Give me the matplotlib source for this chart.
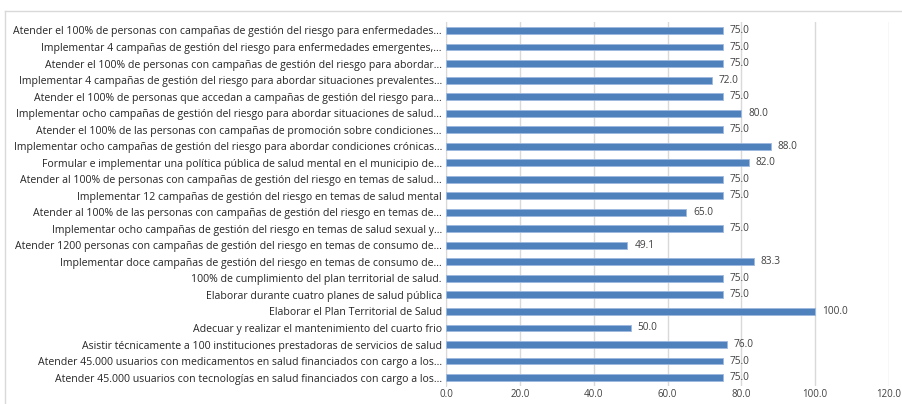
import matplotlib.pyplot as plt
import numpy as np
from matplotlib.lines import Line2D

# metas del plan de salud y su porcentaje de avance
metas = [
    "Atender el 100% de personas con campañas de gestión del riesgo para enfermedades...",
    "Implementar 4 campañas de gestión del riesgo para enfermedades emergentes,...",
    "Atender el 100% de personas con campañas de gestión del riesgo para abordar...",
    "Implementar 4 campañas de gestión del riesgo para abordar situaciones prevalentes...",
    "Atender el 100% de personas que accedan a campañas de gestión del riesgo para...",
    "Implementar ocho campañas de gestión del riesgo para abordar situaciones de salud...",
    "Atender el 100% de las personas con campañas de promoción sobre condiciones...",
    "Implementar ocho campañas de gestión del riesgo para abordar condiciones crónicas...",
    "Formular e implementar una política pública de salud mental en el municipio de...",
    "Atender al 100% de personas con campañas de gestión del riesgo en temas de salud...",
    "Implementar 12 campañas de gestión del riesgo en temas de salud mental",
    "Atender al 100% de las personas con campañas de gestión del riesgo en temas de...",
    "Implementar ocho campañas de gestión del riesgo en temas de salud sexual y...",
    "Atender 1200 personas con campañas de gestión del riesgo en temas de consumo de...",
    "Implementar doce campañas de gestión del riesgo en temas de consumo de...",
    "100% de cumplimiento del plan territorial de salud.",
    "Elaborar durante cuatro planes de salud pública",
    "Elaborar el Plan Territorial de Salud",
    "Adecuar y realizar el mantenimiento del cuarto frio",
    "Asistir técnicamente a 100 instituciones prestadoras de servicios de salud",
    "Atender 45.000 usuarios con medicamentos en salud financiados con cargo a los...",
    "Atender 45.000 usuarios con tecnologías en salud financiados con cargo a los...",
]
avance = [75.0, 75.0, 75.0, 72.0, 75.0, 80.0, 75.0, 88.0, 82.0, 75.0, 75.0,
          65.0, 75.0, 49.1, 83.3, 75.0, 75.0, 100.0, 50.0, 76.0, 75.0, 75.0]
ticks_x = [0, 20, 40, 60, 80, 100, 120]

plt.rcParams['font.family'] = ['Open Sans', 'DejaVu Sans']

fig = plt.figure(figsize=(9.03, 4.04), dpi=100)
ax = fig.add_axes([0.494, 0.045, 0.4905, 0.900])

y = np.arange(len(metas))
ax.barh(y, avance, height=0.42, color="#4F81BD", edgecolor="#9DB9DD",
        linewidth=0.6, zorder=3)
for yi, v in zip(y, avance):
    ax.text(v + 1.9, yi, f"{v:.1f}", va="center", ha="left",
            fontsize=7.3, color="#404040")

ax.set_yticks(y)
ax.set_yticklabels(metas, fontsize=7.6, color="#262626")
ax.set_ylim(len(metas) - 0.5, -0.5)
ax.set_xlim(0, 120)
ax.set_xticks(ticks_x)
ax.set_xticklabels([f"{t:.1f}" for t in ticks_x], fontsize=7.0, color="#404040")
ax.tick_params(axis="both", length=0, pad=3)
ax.tick_params(axis="x", pad=2)
ax.grid(axis="x", color="#D9D9D9", linewidth=1.0, zorder=0)
for s in ["top", "right", "bottom"]:
    ax.spines[s].set_visible(False)
ax.spines["left"].set_color("#D9D9D9")

# marco del área del gráfico
fig.add_artist(Line2D([5 / 903, 1.0], [1 - 11 / 404] * 2, color="#D9D9D9",
                      lw=1.0, transform=fig.transFigure))
fig.add_artist(Line2D([5 / 903] * 2, [0.0, 1 - 11 / 404], color="#D9D9D9",
                      lw=1.0, transform=fig.transFigure))

fig.savefig("out.png", dpi=100)
